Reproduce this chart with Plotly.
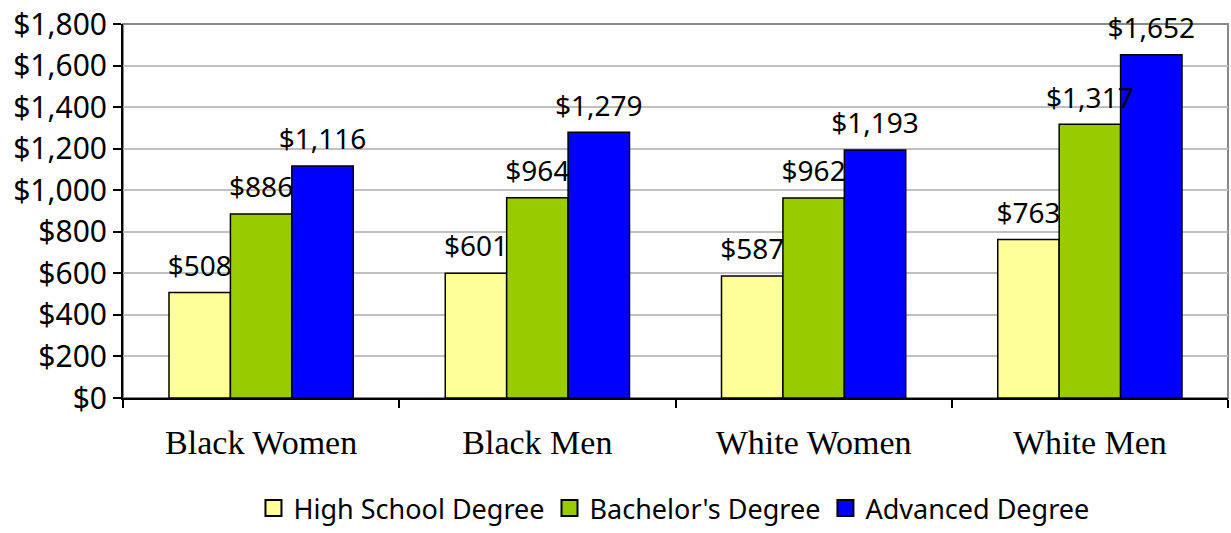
import plotly.graph_objects as go

categories = ["Black Women", "Black Men", "White Women", "White Men"]
high_school = [508, 601, 587, 763]
bachelors = [886, 964, 962, 1317]
advanced = [1116, 1279, 1193, 1652]
series_names = ["High School Degree", "Bachelor's Degree", "Advanced Degree"]
series_colors = ["#FFFF99", "#99CC00", "#0000FF"]
y_ticks = list(range(0, 1801, 200))

SANS = "Noto Sans, Open Sans, sans-serif"
series_values = [high_school, bachelors, advanced]

fig = go.Figure()
# bars
for i, (name, vals, col) in enumerate(zip(series_names, series_values, series_colors)):
    fig.add_trace(go.Bar(
        x=categories, y=vals, name=name, showlegend=False,
        offsetgroup=str(i), alignmentgroup="g",
        marker=dict(color=col, line=dict(color="black", width=1.5)),
    ))
# value labels drawn on top of all bars (invisible markers push text up a little)
for i, (name, vals) in enumerate(zip(series_names, series_values)):
    fig.add_trace(go.Scatter(
        x=categories, y=vals, mode="markers+text", showlegend=False,
        offsetgroup=str(i), alignmentgroup="g",
        marker=dict(size=14, color="rgba(0,0,0,0)"),
        text=[f"${v:,}" for v in vals], textposition="top center",
        textfont=dict(family=SANS, size=28, color="black"),
        cliponaxis=False, hoverinfo="skip",
    ))
# legend entries with square swatches (on a hidden overlay axis)
for name, col in zip(series_names, series_colors):
    fig.add_trace(go.Scatter(
        x=[None], y=[None], mode="markers", name=name, xaxis="x2", yaxis="y2",
        marker=dict(symbol="square", size=21, color=col, line=dict(color="black", width=2)),
    ))

fig.update_layout(
    width=1231, height=533,
    margin=dict(l=123, r=3, t=24, b=135, autoexpand=False),
    paper_bgcolor="white", plot_bgcolor="white",
    barmode="group", bargap=0.333, bargroupgap=0,
    scattermode="group", scattergap=0.333,
    showlegend=True,
    legend=dict(orientation="h", xref="container", x=0.5475, xanchor="center",
                yref="container", y=0.0, yanchor="bottom", borderwidth=0,
                font=dict(family=SANS, size=27, color="black"),
                itemwidth=30, tracegroupgap=0),
    xaxis2=dict(overlaying="x", visible=False, range=[0, 1]),
    yaxis2=dict(overlaying="y", visible=False, range=[0, 1]),
    shapes=[dict(type="rect", xref="paper", yref="paper", x0=0, x1=1, y0=0, y1=1,
                 line=dict(color="#888888", width=2), layer="below")],
    xaxis=dict(showline=True, linecolor="black", linewidth=2,
               ticks="outside", tickson="boundaries", ticklen=8, tickwidth=2, tickcolor="black",
               tickfont=dict(family="Liberation Serif, DejaVu Serif, serif", size=34, color="black"),
               ticklabelstandoff=13, showgrid=False, automargin=False),
    yaxis=dict(range=[0, 1800], tickvals=y_ticks, ticktext=[f"${v:,}" for v in y_ticks],
               showline=True, linecolor="black", linewidth=2,
               ticks="outside", ticklen=8, tickwidth=2, tickcolor="black",
               tickfont=dict(family=SANS, size=30, color="black"),
               showgrid=True, gridcolor="#C0C0C0", gridwidth=2,
               zeroline=False, automargin=False, ticklabeloverflow="allow"),
)

fig.write_html("out.html", config={"displayModeBar": False},
               post_script="document.body.style.margin='0';")
